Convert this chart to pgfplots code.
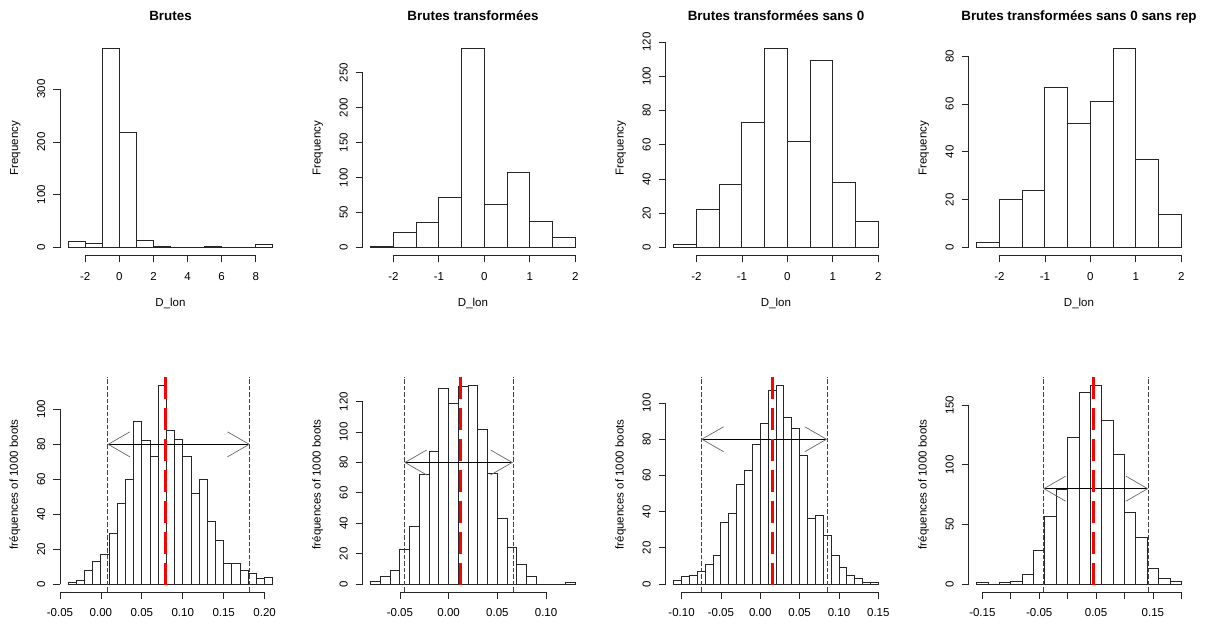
\documentclass[border=0pt]{standalone}
\usepackage{fontspec}
\setmainfont{Liberation Sans}
\usepackage{pgfplots}
\pgfplotsset{compat=1.18}
\usetikzlibrary{arrows.meta}

\newcommand{\raxes}[4]{%
  \draw[black!85,line width=0.8pt] (axis cs:#1,\pgfkeysvalueof{/pgfplots/ymin}) -- (axis cs:#2,\pgfkeysvalueof{/pgfplots/ymin});
  \draw[black!85,line width=0.8pt] (axis cs:\pgfkeysvalueof{/pgfplots/xmin},#3) -- (axis cs:\pgfkeysvalueof{/pgfplots/xmin},#4);}

\pgfplotsset{
  rbase/.style={
    scale only axis, width=221pt, anchor=south west, clip=false,
    axis x line*=bottom, axis y line*=left,
    axis line style={draw=none},
    tick align=outside, major tick length=7pt,
    tick style={black!85, line width=0.8pt},
    font=\fontsize{11.5}{13}\selectfont,
    every axis title/.style={at={([yshift=20pt]axis description cs:0.5,1)}, anchor=base, font=\bfseries\fontsize{13.4}{16}\selectfont},
    every axis x label/.style={at={([yshift=-51pt]axis description cs:0.5,0)}, anchor=base},
    every axis y label/.style={at={([xshift=-42pt]axis description cs:0,0.5)}, rotate=90, anchor=base},
    yticklabel style={rotate=90, anchor=base},
    xticklabel style={anchor=base},
    yticklabel shift=8pt,
  },
  rtop/.style={rbase, height=214.5pt, xticklabel shift=18.5pt, xlabel={D\_lon}, ylabel={Frequency}},
  rbot/.style={rbase, height=215pt, xticklabel shift=17.5pt, ylabel={fréquences of 1000 boots}},
  rbar/.style={ybar interval, fill=white, draw=black!85, line width=0.9pt},
  rci/.style={black!75, line width=0.8pt, dash pattern=on 4.5pt off 2pt},
  rmean/.style={red, line width=3pt, dash pattern=on 22pt off 9pt},
  rarrow/.style={black, line width=0.8pt, arrows={Straight Barb[length=21.7pt,width=25pt,color=black!60,line width=0.7pt]-Straight Barb[length=21.7pt,width=25pt,color=black!60,line width=0.7pt]}},
}

\begin{document}
\begin{tikzpicture}
\useasboundingbox (0,0) rectangle (1208pt,631pt);

% ---------- top row ----------
\begin{axis}[rtop, at={(60pt,375.5pt)}, title={Brutes},
  xmin=-3.48, xmax=9.48, ymin=-15.04, ymax=391.04,
  xtick={-2,0,2,4,6,8}, xticklabels={-2,0,2,4,6,8},
  ytick={0,100,200,300}, yticklabels={0,100,200,300}]
\addplot[rbar] coordinates {(-3,12) (-2,8) (-1,376) (0,218) (1,14) (2,2) (3,0) (4,0) (5,2) (6,0) (7,0) (8,6) (9,6)};
\raxes{-2}{8}{0}{300}
\end{axis}

\begin{axis}[rtop, at={(362.5pt,375.5pt)}, title={Brutes transformées},
  xmin=-2.68, xmax=2.18, ymin=-11.36, ymax=295.36,
  xtick={-2,-1,0,1,2}, xticklabels={-2,-1,0,1,2},
  ytick={0,50,100,150,200,250}, yticklabels={0,50,100,150,200,250}]
\addplot[rbar] coordinates {(-2.5,1) (-2,21) (-1.5,36) (-1,72) (-0.5,284) (0,62) (0.5,108) (1,38) (1.5,15) (2,15)};
\raxes{-2}{2}{0}{250}
\end{axis}

\begin{axis}[rtop, at={(665.5pt,375.5pt)}, title={Brutes transformées sans 0},
  xmin=-2.68, xmax=2.18, ymin=-4.64, ymax=120.64,
  xtick={-2,-1,0,1,2}, xticklabels={-2,-1,0,1,2},
  ytick={0,20,40,60,80,100,120}, yticklabels={0,20,40,60,80,100,120}]
\addplot[rbar] coordinates {(-2.5,2) (-2,22) (-1.5,37) (-1,73) (-0.5,116) (0,62) (0.5,109) (1,38) (1.5,15) (2,15)};
\raxes{-2}{2}{0}{120}
\end{axis}

\begin{axis}[rtop, at={(968.5pt,375.5pt)}, title={Brutes transformées sans 0 sans rep},
  xmin=-2.68, xmax=2.18, ymin=-3.32, ymax=86.32,
  xtick={-2,-1,0,1,2}, xticklabels={-2,-1,0,1,2},
  ytick={0,20,40,60,80}, yticklabels={0,20,40,60,80}]
\addplot[rbar] coordinates {(-2.5,2) (-2,20) (-1.5,24) (-1,67) (-0.5,52) (0,61) (0.5,83) (1,37) (1.5,14) (2,14)};
\raxes{-2}{2}{0}{80}
\end{axis}

% ---------- bottom row ----------
\begin{axis}[rbot, at={(60pt,39pt)},
  xmin=-0.05, xmax=0.22, ymin=-4.56, ymax=118.56,
  xtick={-0.05,0,0.05,0.1,0.15,0.2}, xticklabels={-0.05,0.00,0.05,0.10,0.15,0.20},
  ytick={0,20,40,60,80,100}, yticklabels={0,20,40,60,80,100}]
\addplot[rbar] coordinates {(-0.04,1) (-0.03,2) (-0.02,8) (-0.01,13) (0,17) (0.01,29) (0.02,46) (0.03,60) (0.04,93) (0.05,82) (0.06,73) (0.07,114) (0.08,88) (0.09,83) (0.1,73) (0.11,52) (0.12,60) (0.13,36) (0.14,25) (0.15,12) (0.16,12) (0.17,8) (0.18,6) (0.19,3) (0.2,4) (0.21,4)};
\addplot[rci] coordinates {(0.008,-4.56) (0.008,118.56)};
\addplot[rci] coordinates {(0.182,-4.56) (0.182,118.56)};
\addplot[rarrow] coordinates {(0.008,80) (0.182,80)};
\addplot[rmean] coordinates {(0.079,118.56) (0.079,-4.56)};
\raxes{-0.05}{0.2}{0}{100}
\end{axis}

\begin{axis}[rbot, at={(362.5pt,39pt)},
  xmin=-0.0884, xmax=0.1384, ymin=-5.24, ymax=136.24,
  xtick={-0.05,0,0.05,0.1}, xticklabels={-0.05,0.00,0.05,0.10},
  ytick={0,20,40,60,80,100,120}, yticklabels={0,20,40,60,80,100,120}]
\addplot[rbar] coordinates {(-0.08,2) (-0.07,5) (-0.06,9) (-0.05,23) (-0.04,38) (-0.03,72) (-0.02,87) (-0.01,129) (0,119) (0.01,130) (0.02,131) (0.03,102) (0.04,73) (0.05,43) (0.06,24) (0.07,13) (0.08,5) (0.09,0) (0.1,0) (0.11,0) (0.12,1) (0.13,1)};
\addplot[rci] coordinates {(-0.0455,-5.24) (-0.0455,136.24)};
\addplot[rci] coordinates {(0.066,-5.24) (0.066,136.24)};
\addplot[rarrow] coordinates {(-0.0455,80) (0.066,80)};
\addplot[rmean] coordinates {(0.012,136.24) (0.012,-5.24)};
\raxes{-0.05}{0.1}{0}{120}
\end{axis}

\begin{axis}[rbot, at={(665.5pt,39pt)},
  xmin=-0.1204, xmax=0.1604, ymin=-4.4, ymax=114.4,
  xtick={-0.1,-0.05,0,0.05,0.1,0.15}, xticklabels={-0.10,-0.05,0.00,0.05,0.10,0.15},
  ytick={0,20,40,60,80,100}, yticklabels={0,20,40,60,80,100}]
\addplot[rbar] coordinates {(-0.11,2) (-0.1,4) (-0.09,5) (-0.08,7) (-0.07,11) (-0.06,16) (-0.05,34) (-0.04,39) (-0.03,55) (-0.02,63) (-0.01,77) (0,89) (0.01,107) (0.02,110) (0.03,92) (0.04,86) (0.05,71) (0.06,36) (0.07,38) (0.08,27) (0.09,16) (0.1,9) (0.11,5) (0.12,3) (0.13,1) (0.14,1) (0.15,1)};
\addplot[rci] coordinates {(-0.075,-4.4) (-0.075,114.4)};
\addplot[rci] coordinates {(0.085,-4.4) (0.085,114.4)};
\addplot[rarrow] coordinates {(-0.075,80) (0.085,80)};
\addplot[rmean] coordinates {(0.015,114.4) (0.015,-4.4)};
\raxes{-0.1}{0.15}{0}{100}
\end{axis}

\begin{axis}[rbot, at={(968.5pt,39pt)},
  xmin=-0.1744, xmax=0.2144, ymin=-6.68, ymax=173.68,
  xtick={-0.15,-0.1,-0.05,0,0.05,0.1,0.15,0.2}, xticklabels={-0.15,,-0.05,,0.05,,0.15,},
  ytick={0,50,100,150}, yticklabels={0,50,100,150}]
\addplot[rbar] coordinates {(-0.16,1) (-0.14,0) (-0.12,1) (-0.1,2) (-0.08,8) (-0.06,28) (-0.04,57) (-0.02,79) (0,123) (0.02,161) (0.04,167) (0.06,137) (0.08,109) (0.1,60) (0.12,39) (0.14,13) (0.16,5) (0.18,2) (0.2,2)};
\addplot[rci] coordinates {(-0.043,-6.68) (-0.043,173.68)};
\addplot[rci] coordinates {(0.142,-6.68) (0.142,173.68)};
\addplot[rarrow] coordinates {(-0.043,80) (0.142,80)};
\addplot[rmean] coordinates {(0.046,173.68) (0.046,-6.68)};
\raxes{-0.15}{0.2}{0}{150}
\end{axis}
\end{tikzpicture}
\end{document}
